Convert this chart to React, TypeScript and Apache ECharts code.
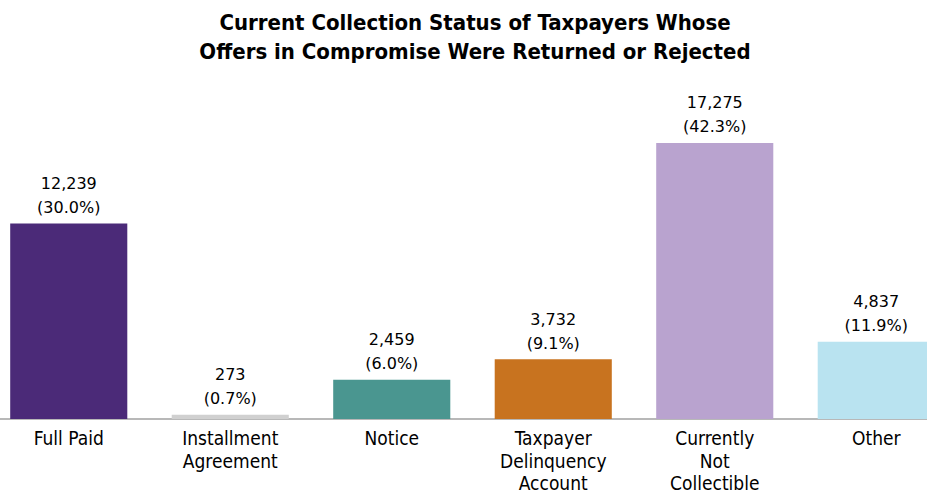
import React, { useEffect, useRef } from "react";
import * as echarts from "echarts";

const categories = ["Full Paid", "Installment\nAgreement", "Notice", "Taxpayer\nDelinquency\nAccount", "Currently\nNot\nCollectible", "Other"];
const counts = [12239, 273, 2459, 3732, 17275, 4837];
const percents = ["30.0%", "0.7%", "6.0%", "9.1%", "42.3%", "11.9%"];
const colors = ["#4B2A78", "#D0D0D0", "#4A9690", "#C8731F", "#B9A3CF", "#B9E3F0"];

const NARROW = "'Liberation Sans Narrow', 'DejaVu Sans Condensed', 'Roboto Condensed', sans-serif";

export default function App() {
  const ref = useRef<HTMLDivElement>(null);
  useEffect(() => {
    const chart = echarts.init(ref.current!, null, { renderer: "svg" });
    chart.setOption({
      animation: false,
      title: {
        text: "Current Collection Status of Taxpayers Whose\nOffers in Compromise Were Returned or Rejected",
        left: 470,
        top: 3,
        textAlign: "center",
        textStyle: {
          fontFamily: NARROW,
          fontWeight: "bold",
          fontSize: 22,
          lineHeight: 29,
          color: "#000",
        },
      },
      grid: { left: -12, right: -30, top: 99.4, bottom: 77, containLabel: false, outerBoundsMode: "none" },
      xAxis: {
        type: "category",
        data: categories,
        axisLine: { lineStyle: { color: "#A0A0A0", width: 1.5 } },
        axisTick: { show: false },
        axisLabel: {
          interval: 0,
          margin: 8,
          fontFamily: NARROW,
          fontSize: 19,
          lineHeight: 22.5,
          color: "#000",
        },
      },
      yAxis: { type: "value", min: 0, max: 20000, show: false, splitLine: { show: false } },
      series: [
        {
          type: "bar",
          barWidth: "72.5%",
          data: counts.map((v, i) => ({ value: v, itemStyle: { color: colors[i] } })),
          label: {
            show: true,
            position: "top",
            distance: 4,
            fontFamily: "'DejaVu Sans', sans-serif",
            fontSize: 16,
            lineHeight: 24,
            color: "#000",
            formatter: (p: any) => p.value.toLocaleString("en-US") + "\n(" + percents[p.dataIndex] + ")",
          },
        },
      ],
    });
    return () => chart.dispose();
  }, []);
  return <div ref={ref} style={{ width: 927, height: 496, position: "absolute", left: 0, top: 0 }} />;
}
